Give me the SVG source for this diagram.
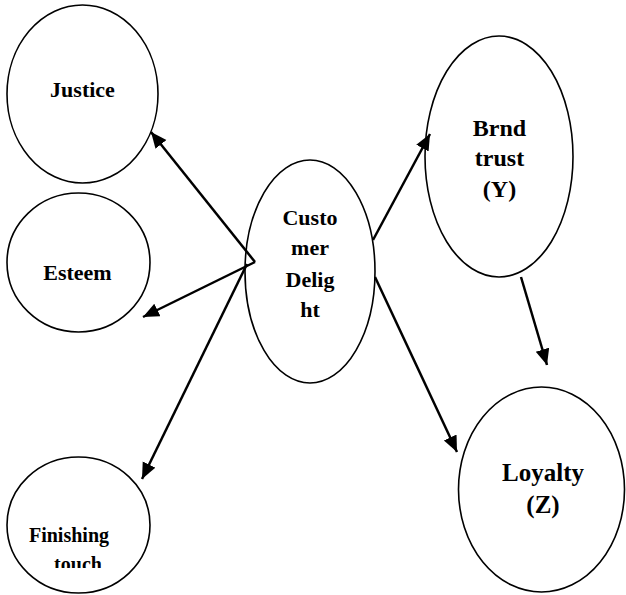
<svg xmlns="http://www.w3.org/2000/svg" width="626" height="595" viewBox="0 0 626 595">
<style>
.node{fill:#fff;stroke:#000;stroke-width:1.6}
.lbl{font-family:"Liberation Serif","Times New Roman",serif;font-weight:bold;fill:#000;text-anchor:middle}
.conn line{stroke:#000;stroke-width:2.5;fill:none}
</style>
<defs>
<marker id="ah" markerUnits="userSpaceOnUse" markerWidth="18" markerHeight="16" refX="16" refY="7" orient="auto">
<path d="M0,0 L16,7 L0,14 z" fill="#000"/>
</marker>
<clipPath id="clipF"><rect x="0" y="440" width="200" height="128"/></clipPath>
</defs>
<rect width="626" height="595" fill="#fff"/>
<g id="justice">
<ellipse class="node" cx="82.5" cy="94" rx="75.5" ry="89"/>
<text class="lbl" x="82.5" y="97" font-size="22">Justice</text>
</g>
<g id="esteem">
<ellipse class="node" cx="78.5" cy="262.5" rx="71.5" ry="69.5"/>
<text class="lbl" x="77.5" y="280" font-size="22">Esteem</text>
</g>
<g id="finishing">
<ellipse class="node" cx="78.5" cy="525" rx="71.5" ry="68"/>
<g clip-path="url(#clipF)">
<text class="lbl" x="69" y="542" font-size="20">Finishing</text>
<text class="lbl" x="78" y="571" font-size="20">touch</text>
</g>
</g>
<g id="delight">
<ellipse class="node" cx="310" cy="271.5" rx="65" ry="111.5"/>
<text class="lbl" x="310" y="225" font-size="22">Custo</text>
<text class="lbl" x="310" y="255" font-size="22">mer</text>
<text class="lbl" x="310" y="287" font-size="22">Delig</text>
<text class="lbl" x="310" y="317" font-size="22">ht</text>
</g>
<g id="brandtrust">
<ellipse class="node" cx="499" cy="156.5" rx="74" ry="120.5"/>
<text class="lbl" x="499.5" y="136" font-size="24">Brnd</text>
<text class="lbl" x="499.5" y="166" font-size="24">trust</text>
<text class="lbl" x="499.5" y="197" font-size="24">(Y)</text>
</g>
<g id="loyalty">
<ellipse class="node" cx="541.5" cy="489.5" rx="83" ry="102.5"/>
<text class="lbl" x="543" y="481" font-size="25">Loyalty</text>
<text class="lbl" x="543" y="513" font-size="25">(Z)</text>
</g>
<g class="conn" id="connectors">
<line x1="255" y1="262" x2="151" y2="132" marker-end="url(#ah)"/>
<line x1="255" y1="262" x2="143" y2="317" marker-end="url(#ah)"/>
<line x1="247" y1="264" x2="142" y2="479" marker-end="url(#ah)"/>
<line x1="373" y1="240" x2="430" y2="134" marker-end="url(#ah)"/>
<line x1="375" y1="277" x2="457" y2="452" marker-end="url(#ah)"/>
<line x1="521" y1="277" x2="547" y2="365" marker-end="url(#ah)"/>
</g>
</svg>
